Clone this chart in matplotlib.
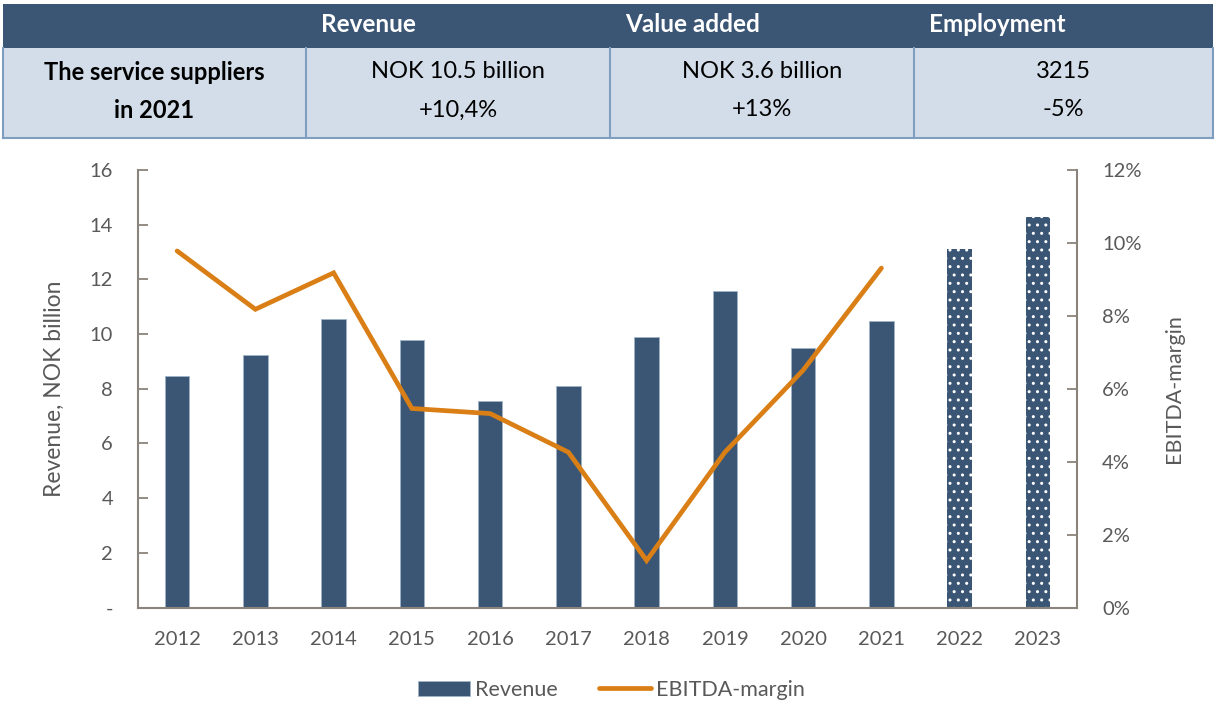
import matplotlib.pyplot as plt
from matplotlib.patches import Rectangle
from matplotlib.ticker import FuncFormatter, MultipleLocator

plt.rcParams['font.family'] = ['Lato', 'DejaVu Sans']

years = ["2012", "2013", "2014", "2015", "2016", "2017",
         "2018", "2019", "2020", "2021", "2022", "2023"]
revenue = [8.47, 9.22, 10.57, 9.78, 7.54, 8.09, 9.89, 11.57, 9.48, 10.48, 13.1, 14.3]
forecast = [False] * 10 + [True, True]
ebitda_years = years[:10]
ebitda_margin = [9.78, 8.18, 9.18, 5.46, 5.32, 4.26, 1.29, 4.26, 6.51, 9.31]

table_header = ["", "Revenue", "Value added", "Employment"]
table_row_label = ["The service suppliers", "in 2021"]
table_values = [["NOK 10.5 billion", "+10,4%"],
                ["NOK 3.6 billion", "+13%"],
                ["3215", "-5%"]]

NAVY = "#3a5674"
ORANGE = "#d97f16"
GREY = "#595959"
AXIS = "#8a847c"


def draw_table(fig):
    W, H = 1216, 707
    tab = fig.add_axes([0, 0, 1, 1], zorder=0)
    tab.set_xlim(0, W)
    tab.set_ylim(H, 0)
    tab.axis("off")

    cols = [3, 306, 610, 914, 1213]
    tab.add_patch(Rectangle((3, 4), 1210, 44, facecolor="#3b5675", edgecolor="none"))
    tab.add_patch(Rectangle((3, 48), 1210, 90, facecolor="#d2dde9", edgecolor="none"))
    for x in cols:
        tab.plot([x, x], [48, 138], color="#7f9dbf", lw=1.5)
    tab.plot([3, 1213], [138, 138], color="#7f9dbf", lw=1.5)

    for i, h in enumerate(table_header):
        if h:
            tab.text(cols[i] + 15, 25, h, color="white", fontsize=17.5,
                     fontweight="bold", va="center", ha="left")
    for j, t in enumerate(table_row_label):
        tab.text((cols[0] + cols[1]) / 2, 72 + 38 * j, t, color="black",
                 fontsize=17, fontweight="bold", ha="center", va="center")
    for i, vals in enumerate(table_values):
        cx = (cols[i + 1] + cols[i + 2]) / 2
        for j, t in enumerate(vals):
            tab.text(cx, 72 + 38 * j, t, color="black", fontsize=17,
                     ha="center", va="center")


def main():
    fig = plt.figure(figsize=(12.16, 7.07), dpi=100)
    draw_table(fig)

    ax = fig.add_axes([0.1135, 0.1407, 0.7722, 0.6188], zorder=2)
    ax.patch.set_alpha(0)
    x = list(range(len(years)))
    for i, (xi, v) in enumerate(zip(x, revenue)):
        if forecast[i]:
            ax.bar(xi, v, width=0.315, color=NAVY, edgecolor="white",
                   linewidth=0, hatch="..")
        else:
            ax.bar(xi, v, width=0.315, color=NAVY, edgecolor="#9fb3c8",
                   linewidth=0.6, label="Revenue" if i == 0 else None)

    ax.set_xlim(-0.5, len(years) - 0.5)
    ax.set_ylim(0, 16)
    ax.yaxis.set_major_locator(MultipleLocator(2))
    ax.yaxis.set_major_formatter(FuncFormatter(lambda v, p: "-" if v == 0 else f"{v:.0f}"))
    ax.set_xticks(x)
    ax.set_xticklabels(years)
    ax.set_ylabel("Revenue, NOK billion", fontsize=16.5, color=GREY, labelpad=18)

    ax2 = ax.twinx()
    line, = ax2.plot(list(range(len(ebitda_years))), ebitda_margin, color=ORANGE,
                     lw=3.4, solid_joinstyle="miter", solid_capstyle="round",
                     label="EBITDA-margin")
    ax2.set_ylim(0, 12)
    ax2.yaxis.set_major_locator(MultipleLocator(2))
    ax2.yaxis.set_major_formatter(FuncFormatter(lambda v, p: f"{v:.0f}%"))
    ax2.set_ylabel("EBITDA-margin", fontsize=15.5, color=GREY, labelpad=16)

    for a in (ax, ax2):
        for s in a.spines.values():
            s.set_visible(False)
        a.tick_params(axis="both", colors=AXIS, labelcolor=GREY, labelsize=14.5,
                      direction="in", length=7, width=1.3)
        a.tick_params(axis="x", length=0, pad=17)
        a.tick_params(axis="y", pad=18)
    ax.spines["left"].set_visible(True)
    ax.spines["bottom"].set_visible(True)
    ax2.spines["right"].set_visible(True)
    for s in (ax.spines["left"], ax.spines["bottom"], ax2.spines["right"]):
        s.set_color(AXIS)
        s.set_linewidth(1.5)

    handles = [ax.containers[0], line]
    fig.legend(handles, ["Revenue", "EBITDA-margin"], loc="center",
               bbox_to_anchor=(0.503, 0.024), ncol=2, frameon=False,
               fontsize=15.5, labelcolor=GREY, handlelength=2.4,
               columnspacing=1.9, handletextpad=0.25)

    fig.savefig("out.png", dpi=100)


if __name__ == "__main__":
    main()
